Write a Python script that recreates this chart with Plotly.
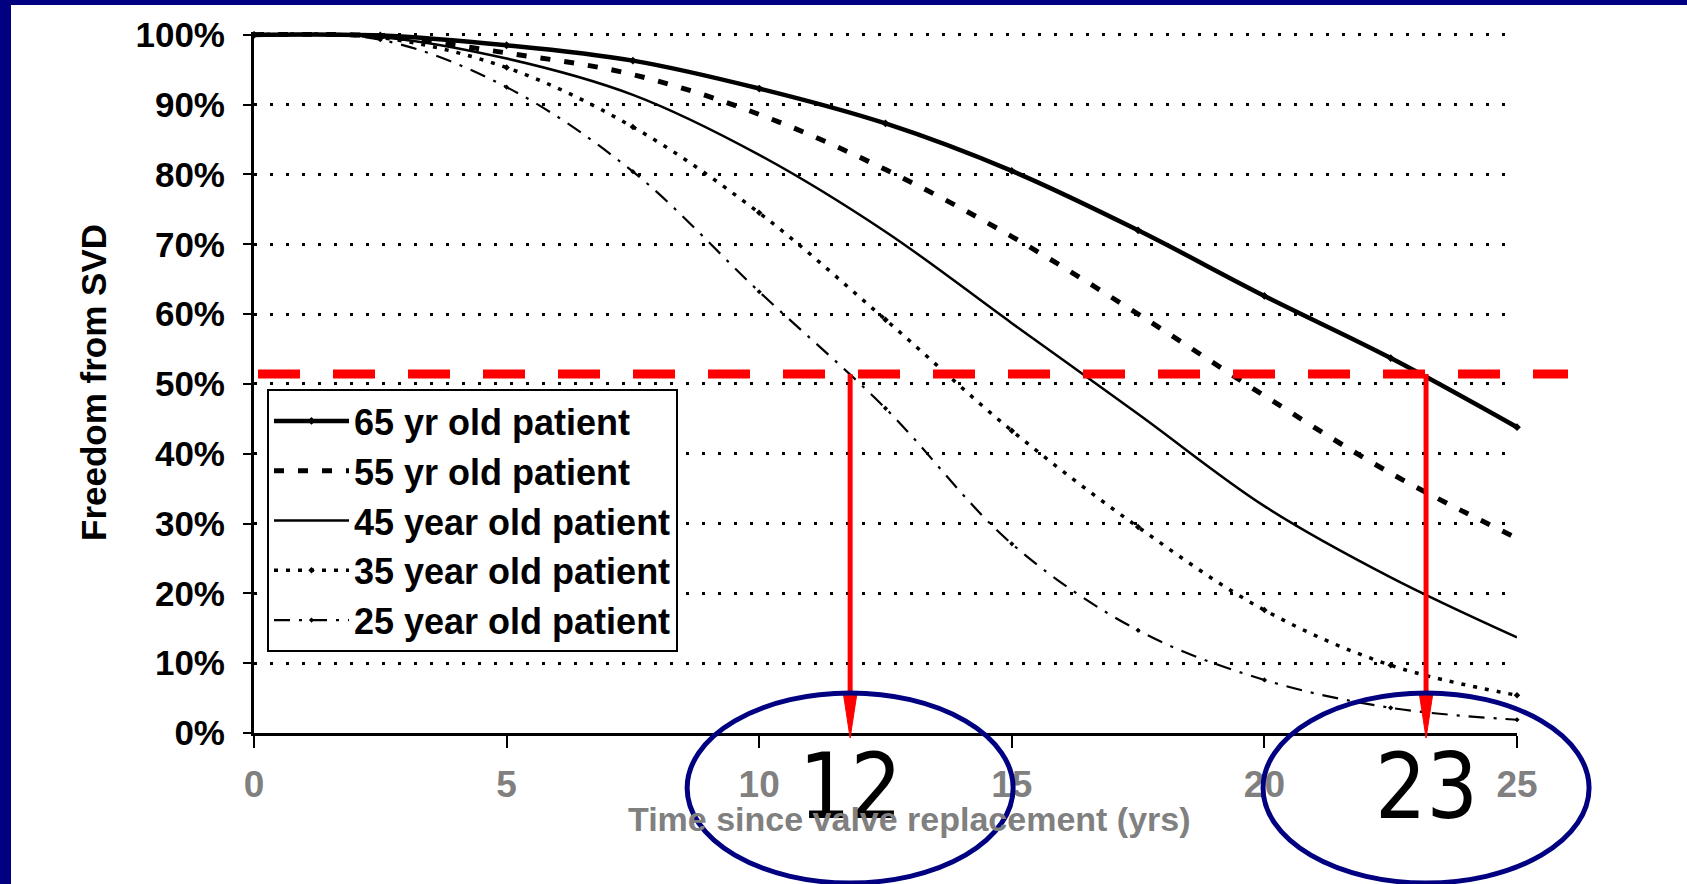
import plotly.graph_objects as go

# ---------------- data ----------------
YEARS = [0, 2.5, 5, 7.5, 10, 12.5, 15, 17.5, 20, 22.5, 25]
AGE_65 = [100, 99.9, 98.5, 96.3, 92.3, 87.3, 80.5, 72.0, 62.6, 53.7, 43.8]
AGE_55 = [100, 99.8, 97.4, 94.3, 88.6, 80.7, 71.1, 60.0, 48.3, 37.2, 27.9]
AGE_45 = [100, 99.7, 96.6, 91.4, 82.8, 71.8, 58.7, 45.7, 32.5, 22.3, 13.7]
AGE_35 = [100, 99.6, 95.3, 86.8, 74.5, 59.2, 43.3, 29.5, 17.6, 9.7, 5.4]
AGE_25 = [100, 99.3, 92.5, 80.4, 63.2, 46.5, 27.1, 14.7, 7.6, 3.6, 1.9]
SERIES_NAMES = ["65 yr old patient", "55 yr old patient", "45 year old patient",
                "35 year old patient", "25 year old patient"]

Y_TICKS = [0, 10, 20, 30, 40, 50, 60, 70, 80, 90, 100]
Y_TICK_LABELS = ["0%", "10%", "20%", "30%", "40%", "50%", "60%", "70%", "80%", "90%", "100%"]
X_TICKS = [0, 5, 10, 15, 20, 25]
X_TICK_LABELS = ["0", "5", "10", "15", "20", "25"]

THRESHOLD = 51.4
ARROW_YEARS = [11.8, 23.2]
ARROW_LABELS = ["12", "23"]

X_TITLE = "Time since valve replacement (yrs)"
Y_TITLE = "Freedom from SVD"

# ---------------- layout geometry ----------------
W, H = 1687, 884
ML, MR, MT, MB = 254, 170, 32, 151
PW, PH = W - ML - MR, H - MT - MB
X_RANGE = [0, 25]
Y_RANGE = [0, 100.4]


def xp(v):
    return (v - X_RANGE[0]) / (X_RANGE[1] - X_RANGE[0])


def yp(v):
    return (v - Y_RANGE[0]) / (Y_RANGE[1] - Y_RANGE[0])


def px_x(p):  # pixel column -> paper x
    return (p - ML) / PW


def px_y(p):  # pixel row -> paper y
    return (H - MB - p) / PH


FONT = "Liberation Sans, Arial, sans-serif"
NAVY = "#000080"
RED = "#ff0000"

fig = go.Figure()

styles = [
    dict(width=4.5, dash="solid", marker=True, msize=6),
    dict(width=5, dash="10px,14px", marker=False, msize=0),
    dict(width=2.5, dash="solid", marker=False, msize=0),
    dict(width=3.5, dash="4px,8px", marker=True, msize=5),
    dict(width=2.2, dash="16px,9px,3px,9px", marker=True, msize=4),
]
series = [AGE_65, AGE_55, AGE_45, AGE_35, AGE_25]
for name, vals, st in zip(SERIES_NAMES, series, styles):
    fig.add_trace(go.Scatter(
        x=YEARS, y=vals, name=name, legendgroup=name,
        mode="lines+markers" if st["marker"] else "lines",
        line=dict(color="black", width=st["width"], dash=st["dash"], shape="spline", smoothing=1.0),
        marker=dict(color="black", size=st["msize"], symbol="diamond"),
        cliponaxis=False,
    ))

shapes = []
# slide background strips
shapes.append(dict(type="rect", xref="paper", yref="paper",
                   x0=px_x(0), x1=px_x(11), y0=px_y(H), y1=px_y(0),
                   fillcolor=NAVY, line=dict(width=0), layer="above"))
shapes.append(dict(type="rect", xref="paper", yref="paper",
                   x0=px_x(0), x1=px_x(W), y0=px_y(5), y1=px_y(0),
                   fillcolor=NAVY, line=dict(width=0), layer="above"))
# red dashed threshold line
shapes.append(dict(type="line", xref="paper", yref="paper",
                   x0=px_x(258), x1=px_x(1568), y0=yp(THRESHOLD), y1=yp(THRESHOLD),
                   line=dict(color=RED, width=9, dash="42px,33px"), layer="above"))
annotations = []
for yr, lab in zip(ARROW_YEARS, ARROW_LABELS):
    cx = xp(yr)
    # arrow shaft
    shapes.append(dict(type="line", xref="paper", yref="paper",
                       x0=cx, x1=cx, y0=yp(THRESHOLD), y1=px_y(700),
                       line=dict(color=RED, width=5), layer="above"))
    # arrow head
    hw = 7 / PW
    shapes.append(dict(type="path", xref="paper", yref="paper",
                       path=f"M {cx - hw},{px_y(692)} L {cx + hw},{px_y(692)} L {cx},{px_y(738)} Z",
                       fillcolor=RED, line=dict(color=RED, width=1), layer="above"))
    # ellipse
    shapes.append(dict(type="circle", xref="paper", yref="paper",
                       x0=cx - 163 / PW, x1=cx + 163 / PW, y0=px_y(883), y1=px_y(693),
                       line=dict(color=NAVY, width=5), layer="above"))
    annotations.append(dict(xref="paper", yref="paper", x=cx, y=px_y(786),
                            text=lab, showarrow=False, xanchor="center", yanchor="middle",
                            font=dict(family="Liberation Sans Narrow, DejaVu Sans Condensed, Liberation Sans",
                                      size=90, color="black")))

annotations.append(dict(xref="paper", yref="paper", x=px_x(909), y=px_y(819),
                        text=X_TITLE, showarrow=False, xanchor="center", yanchor="middle",
                        font=dict(family=FONT, size=34, color="#808080", weight="bold")))

fig.update_layout(
    width=W, height=H,
    margin=dict(l=ML, r=MR, t=MT, b=MB, pad=0),
    paper_bgcolor="white", plot_bgcolor="white",
    showlegend=True,
    legend=dict(x=px_x(267), y=px_y(389), xanchor="left", yanchor="top",
                bgcolor="white", bordercolor="black", borderwidth=2,
                font=dict(family=FONT, size=36, color="black", weight="bold"),
                itemwidth=75, tracegroupgap=7, traceorder="normal"),
    shapes=shapes, annotations=annotations,
    xaxis=dict(range=X_RANGE, showgrid=False, zeroline=False,
               showline=True, linecolor="black", linewidth=3,
               tickmode="array", tickvals=X_TICKS, ticktext=X_TICK_LABELS,
               ticks="outside", ticklen=12, tickwidth=2, tickcolor="black",
               ticklabelstandoff=5,
               tickfont=dict(family=FONT, size=37, color="#808080", weight="bold")),
    yaxis=dict(range=Y_RANGE, showgrid=True, gridcolor="black", gridwidth=3,
               griddash="3px,13px", zeroline=False,
               showline=True, linecolor="black", linewidth=3,
               tickmode="array", tickvals=Y_TICKS, ticktext=Y_TICK_LABELS,
               ticks="outside", ticklen=8, tickwidth=2, tickcolor="black",
               ticklabelstandoff=11,
               tickfont=dict(family=FONT, size=35, color="black", weight="bold"),
               title=dict(text=Y_TITLE, standoff=19,
                          font=dict(family=FONT, size=35, color="black", weight="bold"))),
)

fig.write_html("out.html")
